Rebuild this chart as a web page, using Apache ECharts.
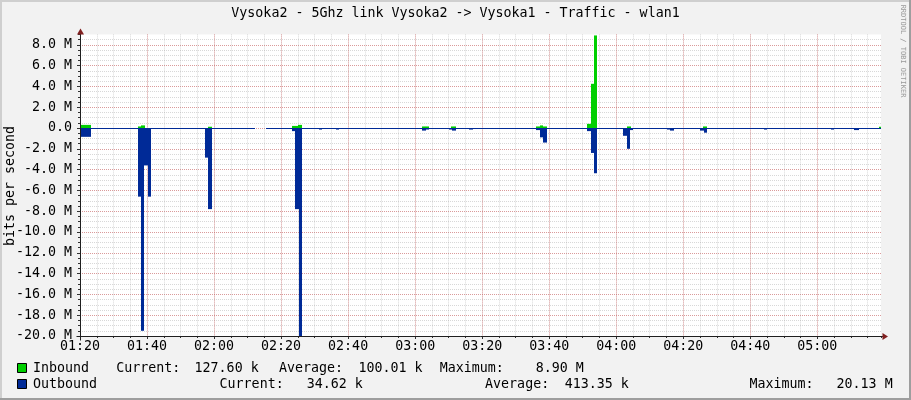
<!DOCTYPE html>
<html><head><meta charset="utf-8">
<script src="https://cdn.jsdelivr.net/npm/echarts@6/dist/echarts.min.js"></script>
<style>html,body{margin:0;padding:0;background:#F2F2F2;}#c{width:911px;height:400px;}</style>
</head><body><div id="c"></div>
<script>
// ---------- data (time in minutes since 01:20, values in bits per second) ----------
// each value holds from its time until the next time (RRD-style steps); null = no data
const titleText = 'Vysoka2 - 5Ghz link Vysoka2 -> Vysoka1 - Traffic - wlan1';
const yAxisTitle = 'bits per second';
const watermark = 'RRDTOOL / TOBI OETIKER';
const xTickLabels = ['01:20','01:40','02:00','02:20','02:40','03:00','03:20','03:40','04:00','04:20','04:40','05:00'];
const yTickLabels = ['-20.0 M','-18.0 M','-16.0 M','-14.0 M','-12.0 M','-10.0 M','-8.0 M','-6.0 M','-4.0 M','-2.0 M','0.0','2.0 M','4.0 M','6.0 M','8.0 M'];
const timeEnd = 239;
const yMin = -20000000, yMax = 9000000;

const inTimes  = [0, 3.2, 17.2, 18.2, 19.5, 38.1, 39.3, 52.1, 55.4, 63.2, 65.0, 66.2, 102.1, 104.1, 110.8, 112.1, 136.0, 137.2, 138.2, 139.2, 151.4, 152.4, 153.4, 154.4, 163.3, 164.3, 186.0, 187.2, 238.3];
const inValues = [300000, 0, 150000, 250000, 0, 120000, 0, null, 0, 200000, 300000, 0, 150000, 0, 150000, 0, 150000, 250000, 150000, 0, 400000, 4250000, 8900000, 0, 150000, 0, 150000, 0, 127600];

const outTimes  = [0, 3.2, 17.2, 18.2, 19.2, 20.2, 21.2, 37.2, 38.2, 39.3, 52.1, 55.4, 63.3, 64.3, 65.3, 66.2, 71.3, 72.3, 76.3, 77.3, 102.1, 103.1, 104.1, 110.1, 111.1, 112.3, 116.1, 117.3, 136.0, 137.2, 138.2, 139.2, 151.4, 152.4, 153.4, 154.4, 161.9, 163.1, 164.1, 165.1, 175.0, 176.0, 177.2, 185.0, 186.2, 187.2, 204.1, 205.1, 224.0, 225.1, 231.0, 232.3, 238.3];
const outValues = [-850000, -40000, -6600000, -19500000, -3600000, -6600000, -40000, -2850000, -7800000, -40000, null, -40000, -300000, -7800000, -20130000, -40000, -150000, -40000, -150000, -40000, -250000, -150000, -40000, -150000, -250000, -40000, -150000, -40000, -200000, -900000, -1400000, -40000, -300000, -2400000, -4350000, -40000, -750000, -2000000, -200000, -40000, -150000, -250000, -40000, -250000, -450000, -40000, -150000, -40000, -150000, -40000, -200000, -40000, -34620];

const seriesNames = ['Inbound', 'Outbound'];
const seriesColors = ['#00CF00', '#002A97'];
const statLabels = ['Current:', 'Average:', 'Maximum:'];
const inboundStats = ['127.60 k', '100.01 k', '8.90 M'];
const outboundStats = ['34.62 k', '413.35 k', '20.13 M'];

// build step items for the library: [startTime, endTime, value]
function stepItems(times, values) {
  const out = [];
  for (let i = 0; i < times.length; i++) {
    if (values[i] === null) continue;
    out.push([times[i], i + 1 < times.length ? times[i + 1] : timeEnd, values[i]]);
  }
  return out;
}
// each step is drawn as a filled block from 0 to its value, positioned by the axes
function stepRenderer(minPx) {
  return function (params, api) {
    const t0 = api.value(0), t1 = api.value(1), v = api.value(2);
    const pz = api.coord([t0, 0]), pe = api.coord([t1, v]);
    const lo = api.coord([t0, yMin])[1], hi = api.coord([t0, yMax])[1];
    const x0 = Math.round(pz[0]), x1 = Math.round(pe[0]);
    const zero = pz[1];
    const yv = Math.min(Math.max(pe[1], hi), lo);
    let top, h;
    if (v >= 0) { h = zero - yv; top = yv; } else { h = yv - zero; top = zero; if (h < minPx) h = minPx; }
    if (h <= 0 || x1 <= x0) return;
    return {type: 'rect', shape: {x: x0, y: top, width: x1 - x0, height: h}, style: {fill: api.visual('color')}};
  };
}

// ---------- chart ----------
const FONT = '"DejaVu Sans Mono"';
const FS = 13.3;
const chart = echarts.init(document.getElementById('c'), null, {renderer: 'canvas'});
const minorGrid = {show: true, showMinLine: false, showMaxLine: false, lineStyle: {color: 'rgba(143,143,143,0.35)', width: 1, type: [1, 1]}};
const majorGrid = {show: true, showMinLine: false, showMaxLine: false, lineStyle: {color: 'rgba(222,79,79,0.45)', width: 1, type: [1, 1]}};
const tickStyle = {color: '#333', width: 1};

chart.setOption({
  animation: false,
  backgroundColor: '#F2F2F2',
  grid: {left: 80, right: 30, top: 34.4, bottom: 64, show: true, backgroundColor: '#FFFFFF', borderWidth: 0, containLabel: false},
  xAxis: [
    {type: 'value', min: 0, max: timeEnd, interval: 5, position: 'bottom',
     axisLine: {show: false, onZero: false}, axisTick: {show: true, length: 2, lineStyle: tickStyle},
     axisLabel: {show: false}, splitLine: minorGrid},
    {type: 'value', min: 0, max: timeEnd, interval: 20, position: 'bottom',
     axisLine: {show: false, onZero: false}, axisTick: {show: true, length: 3, lineStyle: tickStyle},
     axisLabel: {show: true, showMaxLabel: false, margin: 4, color: '#000', fontFamily: FONT, fontSize: FS,
       formatter: v => (v % 20 === 0 ? (xTickLabels[v / 20] || '') : '')},
     splitLine: majorGrid}
  ],
  yAxis: [
    {type: 'value', min: yMin, max: yMax, interval: 500000, position: 'left',
     axisLine: {show: false, onZero: false}, axisTick: {show: true, length: 2, lineStyle: tickStyle},
     axisLabel: {show: false}, splitLine: minorGrid},
    {type: 'value', min: yMin, max: yMax, interval: 2000000, position: 'left',
     axisLine: {show: false, onZero: false}, axisTick: {show: true, length: 3, lineStyle: tickStyle},
     axisLabel: {show: true, showMaxLabel: false, margin: 8, color: '#000', fontFamily: FONT, fontSize: FS,
       formatter: v => { const i = Math.round((v + 20000000) / 2000000); return (v % 2000000 === 0 && yTickLabels[i]) ? yTickLabels[i] : ''; }},
     splitLine: majorGrid}
  ],
  series: [
    {type: 'custom', name: seriesNames[0], xAxisIndex: 0, yAxisIndex: 0, z: 2,
     itemStyle: {color: seriesColors[0]}, encode: {x: [0, 1], y: 2},
     renderItem: stepRenderer(0), data: stepItems(inTimes, inValues)},
    {type: 'custom', name: seriesNames[1], xAxisIndex: 0, yAxisIndex: 0, z: 3,
     itemStyle: {color: seriesColors[1]}, encode: {x: [0, 1], y: 2},
     renderItem: stepRenderer(1), data: stepItems(outTimes, outValues)}
  ]
});

// decorations positioned from the library's own scales
const pO = chart.convertToPixel({xAxisIndex: 0, yAxisIndex: 0}, [0, yMin]);
const pT = chart.convertToPixel({xAxisIndex: 0, yAxisIndex: 0}, [0, yMax]);
const pR = chart.convertToPixel({xAxisIndex: 0, yAxisIndex: 0}, [timeEnd, yMin]);
const ax = Math.round(pO[0]) + 0.5, ay = Math.round(pO[1]) + 0.5;
const topY = pT[1], rightX = pR[0];
const axisColor = '#1F1F1F', arrowColor = '#801F1F';
const txt = (text, x, y) => ({type: 'text', z: 50, style: {text: text, x: x, y: y, font: FS + 'px ' + FONT, fill: '#000', textVerticalAlign: 'middle'}});

const els = [
  // frame
  {type: 'rect', z: 60, shape: {x: 0, y: 0, width: 911, height: 2}, style: {fill: '#CFCFCF'}},
  {type: 'rect', z: 60, shape: {x: 0, y: 0, width: 2, height: 400}, style: {fill: '#CFCFCF'}},
  {type: 'rect', z: 60, shape: {x: 0, y: 398, width: 911, height: 2}, style: {fill: '#9E9E9E'}},
  {type: 'rect', z: 60, shape: {x: 909, y: 0, width: 2, height: 400}, style: {fill: '#9E9E9E'}},
  // axes
  {type: 'line', z: 40, shape: {x1: ax - 4, y1: ay, x2: rightX + 3, y2: ay}, style: {stroke: axisColor, lineWidth: 1}},
  {type: 'line', z: 40, shape: {x1: ax, y1: ay + 4, x2: ax, y2: topY - 1}, style: {stroke: axisColor, lineWidth: 1}},
  {type: 'polygon', z: 41, shape: {points: [[rightX + 1.5, ay - 3.5], [rightX + 7, ay], [rightX + 1.5, ay + 3.5]]}, style: {fill: arrowColor}},
  {type: 'polygon', z: 41, shape: {points: [[ax - 3.5, topY], [ax, topY - 6], [ax + 3.5, topY]]}, style: {fill: arrowColor}},
  // title & axis name & watermark
  {type: 'text', z: 50, style: {text: titleText, x: 455.5, y: 13.5, font: FS + 'px ' + FONT, fill: '#000', textAlign: 'center', textVerticalAlign: 'middle'}},
  {type: 'text', z: 50, x: 10.5, y: 186, rotation: Math.PI / 2, style: {text: yAxisTitle, x: 0, y: 0, font: FS + 'px ' + FONT, fill: '#000', textAlign: 'center', textVerticalAlign: 'middle'}},
  {type: 'text', z: 50, x: 903, y: 51, rotation: -Math.PI / 2, style: {text: watermark, x: 0, y: 0, font: '7px ' + FONT, fill: '#999999', textAlign: 'center', textVerticalAlign: 'middle'}},
  // legend squares
  {type: 'rect', z: 50, shape: {x: 17.5, y: 363.5, width: 9, height: 9}, style: {fill: seriesColors[0], stroke: '#000', lineWidth: 1}},
  {type: 'rect', z: 50, shape: {x: 17.5, y: 379.5, width: 9, height: 9}, style: {fill: seriesColors[1], stroke: '#000', lineWidth: 1}}
];
const row1Y = 369, row2Y = 384.5;
els.push(txt(seriesNames[0], 33, row1Y));
els.push(txt(seriesNames[1], 33, row2Y));
const row1X = [116.2, 194.6, 278.9, 358.5, 439.8, 535.7];
const row2X = [219.6, 306.8, 485.1, 564.7, 749.5, 836.6];
for (let k = 0; k < 3; k++) {
  els.push(txt(statLabels[k], row1X[2 * k], row1Y));
  els.push(txt(inboundStats[k], row1X[2 * k + 1], row1Y));
  els.push(txt(statLabels[k], row2X[2 * k], row2Y));
  els.push(txt(outboundStats[k], row2X[2 * k + 1], row2Y));
}
chart.setOption({graphic: {elements: els}});
</script></body></html>
